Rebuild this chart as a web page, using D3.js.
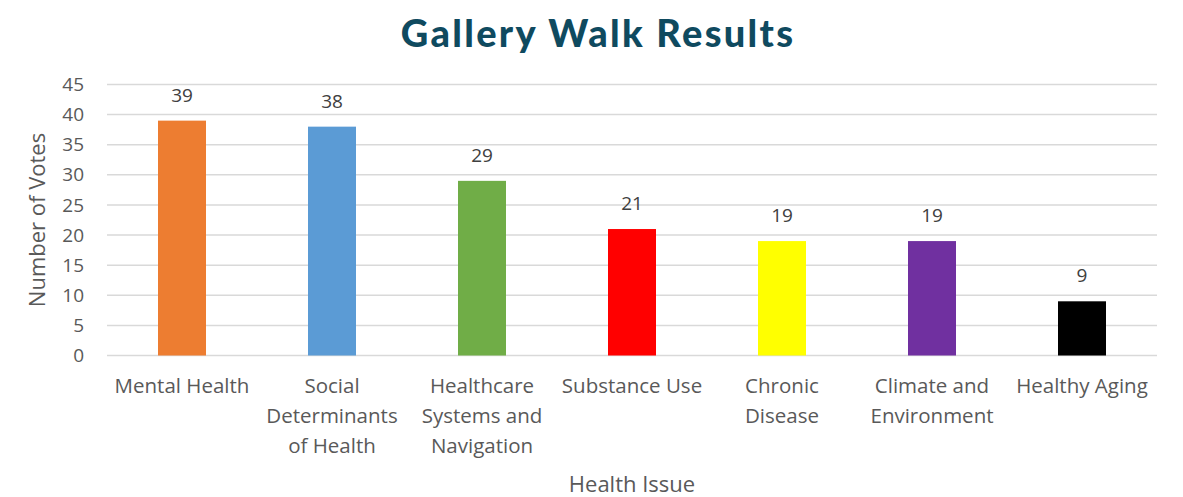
<!DOCTYPE html>
<html>
<head>
<meta charset="utf-8">
<script src="https://cdn.jsdelivr.net/npm/d3@7"></script>
<style>
  html, body { margin: 0; padding: 0; background: #ffffff; }
  svg { display: block; }
</style>
</head>
<body>
<svg id="chart" width="1183" height="497"></svg>
<script>
// Votes per health issue from the gallery walk
const categories = [
  ["Mental Health"],
  ["Social", "Determinants", "of Health"],
  ["Healthcare", "Systems and", "Navigation"],
  ["Substance Use"],
  ["Chronic", "Disease"],
  ["Climate and", "Environment"],
  ["Healthy Aging"]
];
const votes = [39, 38, 29, 21, 19, 19, 9];
const barColors = ["#ed7d31", "#5b9bd5", "#70ad47", "#ff0000", "#ffff00", "#7030a0", "#000000"];
const yTicks = [0, 5, 10, 15, 20, 25, 30, 35, 40, 45];

const svg = d3.select("#chart");
const margin = { left: 107, right: 26, top: 84.5, bottom: 141.5 };
const W = 1183, H = 497;
const textColor = "#595959";
const font = "Open Sans, sans-serif";

const keys = categories.map(d => d.join(" "));
const x = d3.scaleBand()
  .domain(keys)
  .range([margin.left, W - margin.right])
  .paddingInner(0.68)
  .paddingOuter(0.34);

const y = d3.scaleLinear()
  .domain([0, 45])
  .range([H - margin.bottom, margin.top]);

// Title
svg.append("text")
  .attr("x", 598)
  .attr("y", 47)
  .attr("text-anchor", "middle")
  .attr("font-family", "Lato, sans-serif")
  .attr("font-weight", 900)
  .attr("font-size", 38)
  .attr("letter-spacing", 2.3)
  .attr("fill", "#0f4a5f")
  .text("Gallery Walk Results");

// Horizontal gridlines
svg.append("g")
  .selectAll("line")
  .data(yTicks)
  .join("line")
  .attr("x1", margin.left)
  .attr("x2", W - margin.right)
  .attr("y1", d => y(d))
  .attr("y2", d => y(d))
  .attr("stroke", "#d9d9d9")
  .attr("stroke-width", 1.5);

// Y axis tick labels
const yAxis = svg.append("g")
  .attr("transform", `translate(${margin.left - 23},0)`)
  .call(d3.axisLeft(y).tickValues(yTicks).tickSize(0).tickPadding(0));
yAxis.select(".domain").remove();
yAxis.selectAll("text")
  .attr("font-family", font)
  .attr("font-size", 19)
  .attr("fill", textColor);

// Bars
svg.append("g")
  .selectAll("rect")
  .data(votes)
  .join("rect")
  .attr("x", (d, i) => x(keys[i]))
  .attr("y", d => y(d))
  .attr("width", x.bandwidth())
  .attr("height", d => y(0) - y(d))
  .attr("fill", (d, i) => barColors[i]);

// Value labels above bars
svg.append("g")
  .selectAll("text")
  .data(votes)
  .join("text")
  .attr("x", (d, i) => x(keys[i]) + x.bandwidth() / 2)
  .attr("y", d => y(d) - 19)
  .attr("text-anchor", "middle")
  .attr("font-family", font)
  .attr("font-size", 19)
  .attr("fill", "#404040")
  .text(d => d);

// Category labels, wrapped onto several lines
const xl = svg.append("g")
  .selectAll("text")
  .data(categories)
  .join("text")
  .attr("x", (d, i) => x(keys[i]) + x.bandwidth() / 2)
  .attr("y", 393)
  .attr("text-anchor", "middle")
  .attr("font-family", font)
  .attr("font-size", 20.5)
  .attr("fill", textColor);
xl.selectAll("tspan")
  .data(d => d)
  .join("tspan")
  .attr("x", function () { return d3.select(this.parentNode).attr("x"); })
  .attr("dy", (d, i) => i === 0 ? 0 : 30)
  .text(d => d);

// Axis titles
svg.append("text")
  .attr("x", 632)
  .attr("y", 492)
  .attr("text-anchor", "middle")
  .attr("font-family", font)
  .attr("font-size", 22)
  .attr("fill", textColor)
  .text("Health Issue");

svg.append("text")
  .attr("transform", `translate(45,${(y(0) + y(45)) / 2}) rotate(-90)`)
  .attr("text-anchor", "middle")
  .attr("font-family", font)
  .attr("font-size", 22)
  .attr("fill", textColor)
  .text("Number of Votes");
</script>
</body>
</html>
